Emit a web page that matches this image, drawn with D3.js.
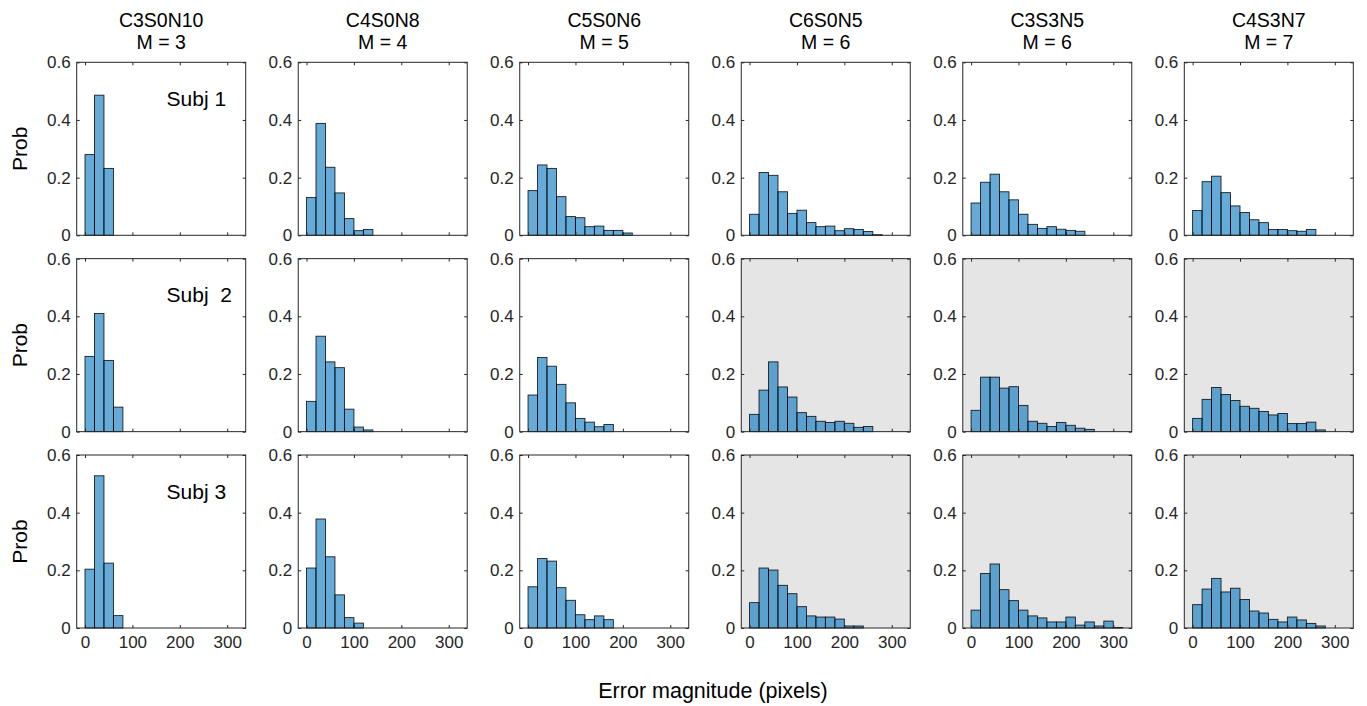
<!DOCTYPE html>
<html>
<head>
<meta charset="utf-8">
<script src="https://cdn.jsdelivr.net/npm/d3@7/dist/d3.min.js"></script>
<style>
  body { margin: 0; background: #fff; }
  text { font-family: "Liberation Sans", Arial, Helvetica, sans-serif; }
</style>
</head>
<body>
<svg id="chart"></svg>
<script>
// conditions (columns) and set sizes
const conditions = ['C3S0N10', 'C4S0N8', 'C5S0N6', 'C6S0N5', 'C3S3N5', 'C4S3N7'];
const mValues = [3, 4, 5, 6, 6, 7];
const subjects = ['Subj 1', 'Subj  2', 'Subj 3'];

// histogram bins: 0:20:320
const binEdges = [0, 20, 40, 60, 80, 100, 120, 140, 160, 180, 200, 220, 240, 260, 280, 300, 320];
const xTicks = [0, 100, 200, 300];
const yTicks = [0, 0.2, 0.4, 0.6];

// probabilities per bin, one list per condition
const subj1Probs = [
  [0.280, 0.486, 0.232],
  [0.131, 0.388, 0.236, 0.147, 0.058, 0.016, 0.020],
  [0.155, 0.244, 0.232, 0.134, 0.065, 0.061, 0.030, 0.032, 0.017, 0.017, 0.008],
  [0.073, 0.218, 0.208, 0.151, 0.076, 0.087, 0.044, 0.030, 0.032, 0.016, 0.023, 0.020, 0.013, 0.002],
  [0.112, 0.184, 0.212, 0.151, 0.123, 0.073, 0.038, 0.024, 0.030, 0.021, 0.017, 0.014],
  [0.086, 0.186, 0.205, 0.148, 0.102, 0.079, 0.054, 0.044, 0.020, 0.020, 0.016, 0.014, 0.020]
];
const subj2Probs = [
  [0.261, 0.410, 0.247, 0.085],
  [0.105, 0.331, 0.242, 0.222, 0.078, 0.016, 0.006],
  [0.127, 0.257, 0.227, 0.164, 0.100, 0.046, 0.033, 0.017, 0.025],
  [0.060, 0.144, 0.242, 0.155, 0.120, 0.066, 0.053, 0.036, 0.032, 0.036, 0.029, 0.015, 0.018],
  [0.074, 0.189, 0.189, 0.151, 0.156, 0.091, 0.036, 0.029, 0.018, 0.032, 0.022, 0.012, 0.008],
  [0.046, 0.112, 0.153, 0.129, 0.108, 0.088, 0.081, 0.070, 0.058, 0.063, 0.028, 0.028, 0.033, 0.006]
];
const subj3Probs = [
  [0.204, 0.528, 0.225, 0.043],
  [0.208, 0.378, 0.247, 0.115, 0.036, 0.017],
  [0.143, 0.241, 0.232, 0.140, 0.096, 0.046, 0.029, 0.042, 0.029],
  [0.088, 0.208, 0.201, 0.148, 0.119, 0.074, 0.042, 0.038, 0.038, 0.031, 0.007, 0.007],
  [0.062, 0.189, 0.222, 0.133, 0.095, 0.062, 0.042, 0.035, 0.021, 0.021, 0.038, 0.010, 0.021, 0.007, 0.024, 0.002],
  [0.081, 0.135, 0.172, 0.125, 0.138, 0.099, 0.059, 0.052, 0.030, 0.021, 0.038, 0.028, 0.016, 0.007]
];
const allProbs = [subj1Probs, subj2Probs, subj3Probs];

// panels drawn with grey background [row, col]
const greyPanels = [[1, 3], [1, 4], [1, 5], [2, 3], [2, 4], [2, 5]];

const WIDTH = 1367;
const HEIGHT = 706;
const PANEL_W = 169;
const PANEL_H = 173;

const svg = d3.select('#chart')
  .attr('width', WIDTH)
  .attr('height', HEIGHT);

const colX = d3.scaleLinear().domain([0, 5]).range([76.7, 1184.3]);
const rowY = d3.scaleLinear().domain([0, 2]).range([62.3, 455]);

const x = d3.scaleLinear().domain([-17.5, 339]).range([0, PANEL_W]);
const y = d3.scaleLinear().domain([0, 0.6]).range([PANEL_H, 0]);

const isGrey = (r, c) => greyPanels.some(p => p[0] === r && p[1] === c);

function styleAxis(g) {
  g.select('.domain').remove();
  g.selectAll('.tick line').attr('stroke', '#262626');
  g.selectAll('.tick text')
    .attr('fill', '#262626')
    .style('font-size', '17px');
}

allProbs.forEach((rowProbs, r) => {
  rowProbs.forEach((probs, c) => {
    const g = svg.append('g')
      .attr('transform', `translate(${colX(c)},${rowY(r)})`);

    g.append('rect')
      .attr('width', PANEL_W)
      .attr('height', PANEL_H)
      .attr('fill', isGrey(r, c) ? '#e5e5e5' : '#ffffff');

    // pad to full bin count so empty bins show on the baseline
    const bins = binEdges.slice(0, -1).map((x0, i) => ({
      x0: x0,
      x1: binEdges[i + 1],
      p: probs[i] || 0
    }));

    g.selectAll('.bar')
      .data(bins)
      .enter()
      .append('rect')
      .classed('bar', true)
      .attr('x', d => x(d.x0))
      .attr('width', d => x(d.x1) - x(d.x0))
      .attr('y', d => y(d.p))
      .attr('height', d => y(0) - y(d.p))
      .attr('fill', '#0072bd')
      .attr('fill-opacity', 0.6)
      .attr('stroke', '#000')
      .attr('stroke-opacity', 0.85)
      .attr('stroke-width', 0.9);

    g.append('g')
      .attr('transform', `translate(0,${PANEL_H})`)
      .call(d3.axisBottom(x).tickValues(xTicks).tickSize(-3).tickPadding(8)
        .tickFormat(d => (r === 2 ? d : '')))
      .call(styleAxis);
    g.append('g')
      .call(d3.axisTop(x).tickValues(xTicks).tickSize(-3).tickFormat(''))
      .call(styleAxis);
    g.append('g')
      .call(d3.axisLeft(y).tickValues(yTicks).tickSize(-3).tickPadding(6)
        .tickFormat(d => (d === 0 ? '0' : d3.format('.1f')(d))))
      .call(styleAxis);
    g.append('g')
      .attr('transform', `translate(${PANEL_W},0)`)
      .call(d3.axisRight(y).tickValues(yTicks).tickSize(-3).tickFormat(''))
      .call(styleAxis);

    g.append('rect')
      .attr('width', PANEL_W)
      .attr('height', PANEL_H)
      .attr('fill', 'none')
      .attr('stroke', '#262626')
      .attr('stroke-width', 1);

    if (r === 0) {
      g.append('text')
        .attr('x', PANEL_W / 2)
        .attr('y', -35.5)
        .attr('text-anchor', 'middle')
        .style('font-size', '19.5px')
        .text(conditions[c]);
      g.append('text')
        .attr('x', PANEL_W / 2)
        .attr('y', -13.5)
        .attr('text-anchor', 'middle')
        .style('font-size', '19.5px')
        .text(`M = ${mValues[c]}`);
    }

    if (c === 0) {
      g.append('text')
        .attr('transform', `translate(-50,${PANEL_H / 2}) rotate(-90)`)
        .attr('text-anchor', 'middle')
        .style('font-size', '21px')
        .text('Prob');
      g.append('text')
        .attr('x', x(172))
        .attr('y', y(0.475))
        .attr('dy', '0.36em')
        .style('font-size', '21px')
        .style('white-space', 'pre')
        .text(subjects[r]);
    }
  });
});

svg.append('text')
  .attr('x', 713)
  .attr('y', 698)
  .attr('text-anchor', 'middle')
  .style('font-size', '21.5px')
  .text('Error magnitude (pixels)');
</script>
</body>
</html>
